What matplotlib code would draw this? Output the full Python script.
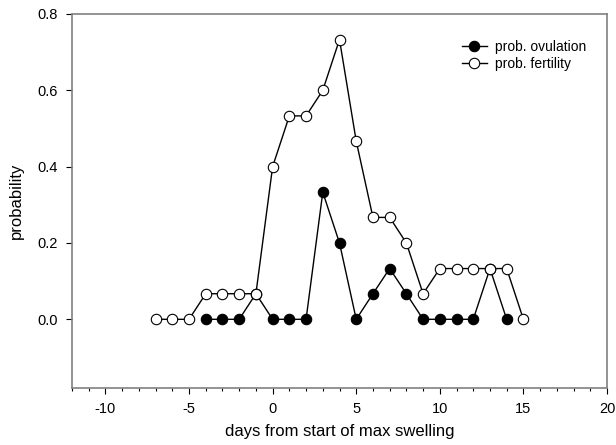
import numpy as np
import matplotlib
matplotlib.use("Agg")
import matplotlib.pyplot as plt
from matplotlib.ticker import MultipleLocator

plt.rcParams['font.family'] = ['Liberation Sans', 'DejaVu Sans']
plt.rcParams['axes.unicode_minus'] = False

# data
days_ovu = [-4, -3, -2, -1, 0, 1, 2, 3, 4, 5, 6, 7, 8, 9, 10, 11, 12, 13, 14]
prob_ovu = [0, 0, 0, 0.067, 0, 0, 0, 0.333, 0.2, 0, 0.067, 0.133, 0.067,
            0, 0, 0, 0, 0.133, 0]
days_fert = list(range(-7, 16))
prob_fert = [0, 0, 0, 0.067, 0.067, 0.067, 0.067, 0.4, 0.533, 0.533, 0.6,
             0.733, 0.467, 0.267, 0.267, 0.2, 0.067, 0.133, 0.133, 0.133,
             0.133, 0.133, 0]

fig = plt.figure(figsize=(6.16, 4.45), dpi=100)
ax = fig.add_axes([72 / 616, 1 - 388 / 445, 535 / 616, 374 / 445])

ax.plot(days_ovu, prob_ovu, '-o', color='black', lw=1, ms=7.5,
        mfc='black', mec='black', mew=0.8, label='prob. ovulation')
ax.plot(days_fert, prob_fert, '-o', color='black', lw=1, ms=7.5,
        mfc='white', mec='black', mew=0.8, label='prob. fertility')

ax.set_xlim(-12, 20)
ax.set_ylim(-0.18, 0.8)
ax.xaxis.set_major_locator(MultipleLocator(5))
ax.xaxis.set_minor_locator(MultipleLocator(1))
ax.set_yticks([0.0, 0.2, 0.4, 0.6, 0.8])
ax.set_yticklabels(['0.0', '0.2', '0.4', '0.6', '0.8'])
ax.tick_params(direction='out', length=4, width=0.8, labelsize=10.5,
               colors='black', pad=6)
ax.tick_params(which='minor', direction='out', length=2.5, width=0.8)
for sp in ax.spines.values():
    sp.set_color('#808080')
    sp.set_linewidth(1.2)

ax.set_xlabel('days from start of max swelling', fontsize=12, labelpad=6)
ax.set_ylabel('probability', fontsize=12, labelpad=10)

ax.legend(loc='upper right', bbox_to_anchor=(0.985, 0.965), frameon=False,
          fontsize=10, handlelength=1.8, handletextpad=0.6, labelspacing=0.25)

fig.savefig('out.png', dpi=100)
